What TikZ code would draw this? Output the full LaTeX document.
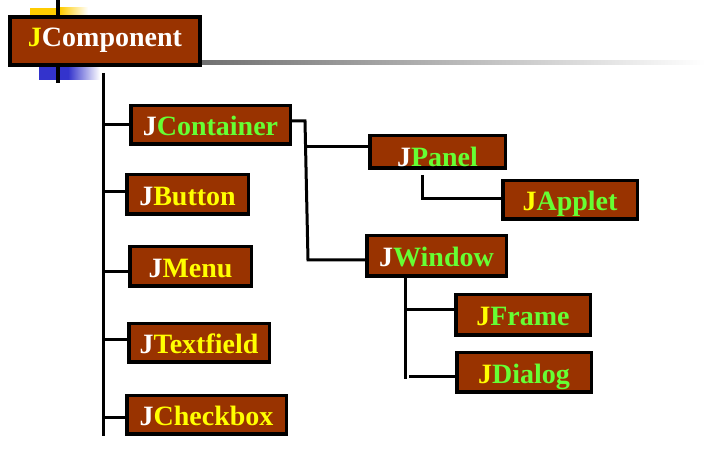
\documentclass[tikz,border=0pt]{standalone}
\usepackage{fontspec}
\setmainfont{Liberation Serif}
\definecolor{boxbrown}{HTML}{993300}
\definecolor{lgreen}{HTML}{66FF33}
\definecolor{lyellow}{HTML}{FFFF00}
\definecolor{decoyellow}{HTML}{FFCC00}
\definecolor{decoblue}{HTML}{3333CC}
\definecolor{linegray}{HTML}{707070}
\begin{document}
\begin{tikzpicture}[x=1pt,y=-1pt,
  classbox/.style={draw=black, line width=3.5pt, fill=boxbrown, inner sep=0pt,
    font=\fontsize{28}{28}\selectfont\bfseries, text height=25pt, text depth=3pt},
  conn/.style={line width=3pt, black}]
\useasboundingbox (0,0) rectangle (716,462);
% decorations
\fill[decoyellow] (30,8) rectangle (60,22);
\shade[left color=decoyellow, right color=white, shading angle=90] (60,8) rectangle (88,22);
\fill[decoblue] (39,62) rectangle (68,80);
\shade[left color=decoblue, right color=white] (68,62) rectangle (100,80);
\shade[left color=linegray, right color=white] (200,61) rectangle (705,65);
\draw[line width=3.5pt] (58,0) -- (58,83);
% nodes
\node[classbox, line width=4pt, minimum width=190pt, minimum height=48pt, text height=15pt] (comp) at (105,41) {\textcolor{lyellow}{J}\textcolor{white}{Component}};
\node[classbox, minimum width=159.5pt, minimum height=38.5pt] (cont) at (210.5,125) {\textcolor{white}{J}\textcolor{lgreen}{Container}};
\node[classbox, minimum width=121.5pt, minimum height=39.5pt] (button) at (187.5,194.5) {\textcolor{white}{J}\textcolor{lyellow}{Button}};
\node[classbox, minimum width=121.5pt, minimum height=39.5pt] (menu) at (190.5,266.5) {\textcolor{white}{J}\textcolor{lyellow}{Menu}};
\node[classbox, minimum width=140.5pt, minimum height=38.5pt] (text) at (199,343) {\textcolor{white}{J}\textcolor{lyellow}{Textfield}};
\node[classbox, minimum width=159.5pt, minimum height=38.5pt] (check) at (206.5,415) {\textcolor{white}{J}\textcolor{lyellow}{Checkbox}};
\node[classbox, minimum width=135.5pt, minimum height=32.5pt, text height=30pt, text depth=0pt] (panel) at (437.5,152) {\textcolor{white}{J}\textcolor{lgreen}{Panel}};
\node[classbox, minimum width=134.5pt, minimum height=38.5pt] (applet) at (570,200) {\textcolor{lyellow}{J}\textcolor{lgreen}{Applet}};
\node[classbox, minimum width=139.5pt, minimum height=40.5pt] (window) at (436.5,256) {\textcolor{white}{J}\textcolor{lgreen}{Window}};
\node[classbox, minimum width=134.5pt, minimum height=40.5pt] (frame) at (523,315) {\textcolor{lyellow}{J}\textcolor{lgreen}{Frame}};
\node[classbox, minimum width=134.5pt, minimum height=39.5pt] (dialog) at (524,372.5) {\textcolor{lyellow}{J}\textcolor{lgreen}{Dialog}};
% trunk from JComponent
\coordinate (ttop) at (103,73);
\coordinate (tbot) at (103,436);
\draw[conn] (ttop) -- (tbot);
\draw[conn] (ttop |- cont.west) -- (cont.west);
\draw[conn] (ttop |- 0,192) -- ([yshift=2.5pt]button.west);
\draw[conn] (ttop |- 0,272) -- ([yshift=-5.5pt]menu.west);
\draw[conn] (ttop |- 0,340) -- ([yshift=3pt]text.west);
\draw[conn] (ttop |- 0,418) -- ([yshift=-3pt]check.west);
% JContainer branch
\coordinate (ctop) at (305,121);
\coordinate (cbot) at (308,260);
\coordinate (cmid) at (306.5,147);
\draw[conn] ([yshift=4pt]cont.east) -- (ctop) -- (cbot) -- ([yshift=-4pt]window.west);
\draw[conn] (cmid) -- ([yshift=5pt]panel.west);
% JPanel branch
\draw[conn] ([shift={(-15.5pt,-5pt)}]panel.south) |- ([yshift=1pt]applet.west);
% JWindow branch
\coordinate (wtop) at (405,278);
\coordinate (wbot) at (405,379);
\draw[conn] (wtop) -- (wbot);
\draw[conn] (wtop |- 0,310) -- ([yshift=5pt]frame.west);
\draw[conn] (409,377) -- ([yshift=-4.5pt]dialog.west);
\end{tikzpicture}
\end{document}
